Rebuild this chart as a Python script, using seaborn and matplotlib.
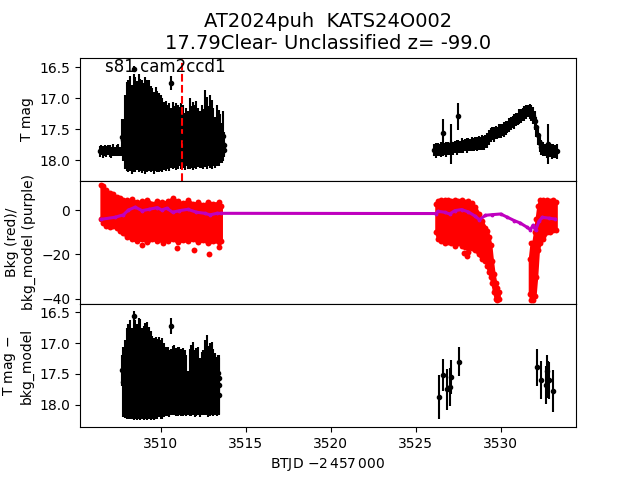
import matplotlib
matplotlib.use("Agg")
import matplotlib.pyplot as plt
import seaborn as sns

# ---------------- top panel: T mag ----------------
# quiet baseline at the start of the first orbit
base_t = [3506.4, 3506.5, 3506.6, 3506.7, 3506.8, 3506.9, 3507.0, 3507.1, 3507.2, 3507.3,
          3507.4, 3507.5, 3507.6, 3507.7, 3513.5, 3513.6, 3513.7]
base_mag = [17.86, 17.84, 17.87, 17.85, 17.86, 17.84, 17.85, 17.87, 17.84, 17.86,
            17.85, 17.84, 17.86, 17.85, 17.84, 17.85, 17.83]
base_err = [0.09, 0.08, 0.10, 0.09, 0.09, 0.08, 0.10, 0.09, 0.10, 0.08,
            0.09, 0.10, 0.08, 0.09, 0.09, 0.10, 0.09]

# noisy stretch of the first orbit
noisy_t = [3507.8, 3507.9, 3508.0, 3508.1, 3508.2, 3508.3, 3508.4, 3508.5, 3508.6, 3508.7,
           3508.8, 3508.9, 3509.0, 3509.1, 3509.2, 3509.3, 3509.4, 3509.5, 3509.6, 3509.7,
           3509.8, 3509.9, 3510.0, 3510.1, 3510.2, 3510.3, 3510.4, 3510.5, 3510.6, 3510.7,
           3510.8, 3510.9, 3511.0, 3511.1, 3511.2, 3511.3, 3511.4, 3511.5, 3511.6, 3511.7,
           3511.8, 3511.9, 3512.0, 3512.1, 3512.2, 3512.3, 3512.4, 3512.5, 3512.6, 3512.7,
           3512.8, 3512.9, 3513.0, 3513.1, 3513.2, 3513.3, 3513.4, 3513.5, 3513.6, 3513.7]
noisy_mag = [17.67, 17.55, 17.46, 17.45, 17.40, 17.50, 17.40, 17.43, 17.44, 17.40,
             17.43, 17.46, 17.46, 17.44, 17.45, 17.44, 17.50, 17.51, 17.56, 17.50,
             17.54, 17.56, 17.56, 17.60, 17.61, 17.61, 17.63, 17.63, 17.64, 17.60,
             17.62, 17.62, 17.62, 17.62, 17.61, 17.62, 17.70, 17.63, 17.67, 17.57,
             17.62, 17.61, 17.62, 17.59, 17.63, 17.67, 17.61, 17.66, 17.49, 17.56,
             17.61, 17.54, 17.58, 17.63, 17.71, 17.60, 17.64, 17.65, 17.72, 17.75]
noisy_err = [0.34, 0.60, 0.72, 0.75, 0.77, 0.72, 0.80, 0.77, 0.72, 0.80,
             0.75, 0.75, 0.71, 0.78, 0.75, 0.73, 0.70, 0.67, 0.66, 0.68,
             0.66, 0.64, 0.61, 0.60, 0.55, 0.57, 0.52, 0.55, 0.49, 0.54,
             0.50, 0.54, 0.52, 0.48, 0.53, 0.51, 0.46, 0.47, 0.47, 0.57,
             0.50, 0.55, 0.51, 0.55, 0.48, 0.46, 0.51, 0.48, 0.62, 0.58,
             0.49, 0.59, 0.56, 0.47, 0.41, 0.50, 0.45, 0.40, 0.32, 0.20]

# second orbit
orb2_t = [3526.1, 3526.2, 3526.3, 3526.4, 3526.5, 3526.6, 3526.7, 3526.8, 3526.9, 3527.0,
          3527.1, 3527.2, 3527.3, 3527.4, 3527.5, 3527.6, 3527.7, 3527.8, 3527.9, 3528.0,
          3528.1, 3528.2, 3528.3, 3528.4, 3528.5, 3528.6, 3528.7, 3528.8, 3528.9, 3529.0,
          3529.1, 3529.2, 3529.3, 3529.4, 3529.5, 3529.6, 3529.7, 3529.8, 3529.9, 3530.0,
          3530.1, 3530.2, 3530.3, 3530.4, 3530.5, 3530.6, 3530.7, 3530.8, 3530.9, 3531.0,
          3531.1, 3531.2, 3531.3, 3531.4, 3531.5, 3531.6, 3531.7, 3531.8, 3531.9, 3532.0,
          3532.1, 3532.2, 3532.3, 3532.4, 3532.5, 3532.6, 3532.7, 3532.8, 3532.9, 3533.0,
          3533.1, 3533.2, 3533.3]
orb2_mag = [17.84, 17.85, 17.83, 17.84, 17.83, 17.82, 17.82, 17.83, 17.81, 17.82,
            17.80, 17.81, 17.79, 17.80, 17.78, 17.79, 17.77, 17.78, 17.76, 17.77,
            17.75, 17.76, 17.74, 17.75, 17.73, 17.74, 17.72, 17.73, 17.71, 17.72,
            17.70, 17.68, 17.64, 17.59, 17.57, 17.58, 17.55, 17.56, 17.53, 17.53,
            17.51, 17.50, 17.48, 17.46, 17.43, 17.41, 17.38, 17.37, 17.34, 17.33,
            17.30, 17.29, 17.26, 17.25, 17.22, 17.20, 17.21, 17.24, 17.28, 17.36,
            17.46, 17.60, 17.73, 17.79, 17.82, 17.84, 17.84, 17.85, 17.85, 17.86,
            17.85, 17.86, 17.86]
orb2_err = [0.10, 0.12, 0.11, 0.10, 0.12, 0.11, 0.10, 0.12, 0.11, 0.10,
            0.12, 0.11, 0.10, 0.12, 0.11, 0.10, 0.12, 0.11, 0.10, 0.12,
            0.11, 0.10, 0.12, 0.11, 0.10, 0.12, 0.11, 0.10, 0.12, 0.11,
            0.10, 0.12, 0.12, 0.11, 0.10, 0.12, 0.11, 0.10, 0.12, 0.11,
            0.10, 0.12, 0.11, 0.10, 0.12, 0.11, 0.10, 0.12, 0.11, 0.10,
            0.12, 0.11, 0.10, 0.12, 0.11, 0.10, 0.12, 0.13, 0.14, 0.15,
            0.16, 0.16, 0.14, 0.12, 0.11, 0.10, 0.12, 0.11, 0.10, 0.12,
            0.11, 0.10, 0.12]

# isolated points
top_out_t = [3507.7, 3508.45, 3510.6, 3513.65, 3526.6, 3527.05, 3527.5, 3532.8]
top_out_mag = [17.62, 16.53, 16.75, 17.61, 17.56, 17.74, 17.29, 17.74]
top_out_err = [0.29, 0.05, 0.12, 0.40, 0.22, 0.32, 0.22, 0.32]

mark_t = 3511.25
label = "s81 cam2ccd1"

# ---------------- middle panel: background ----------------
bkg1_t = [3506.5, 3506.6, 3506.8, 3507.0, 3507.2, 3507.4, 3507.6, 3507.8, 3508.0, 3508.3,
          3508.6, 3508.9, 3509.2, 3509.5, 3509.8, 3510.1, 3510.4, 3510.7, 3511.0, 3511.3,
          3511.6, 3511.9, 3512.2, 3512.5, 3512.8, 3513.1, 3513.4, 3513.55]
bkg1_hi = [11.5, 11.0, 9.0, 8.0, 7.5, 6.0, 5.5, 4.8, 4.5, 5.0,
           3.5, 4.0, 4.8, 3.0, 4.2, 3.5, 4.0, 5.6, 4.0, 3.2,
           4.5, 3.0, 3.6, 2.5, 3.8, 3.0, 3.5, 2.0]
bkg1_lo = [-4, -6, -7, -7.5, -7, -8, -9.5, -10.5, -12, -13,
           -14, -13, -14.5, -13, -14, -13.5, -14, -13, -14.5, -13.5,
           -14, -13, -14.5, -13.5, -15, -14, -14.5, -14]

bkg2_t = [3526.2, 3526.3, 3526.5, 3526.7, 3526.9, 3527.1, 3527.3, 3527.5, 3527.7, 3527.9,
          3528.1, 3528.3, 3528.5, 3528.7, 3528.9, 3529.1, 3529.2, 3529.3, 3529.4, 3529.5,
          3529.6, 3529.7, 3529.8, 3529.9]
bkg2_hi = [3.0, 4.0, 4.8, 4.5, 4.6, 4.0, 4.8, 4.2, 4.6, 3.8,
           4.2, 3.3, 1.5, -1.5, -5, -8, -9.5, -12, -15.6, -23,
           -29, -33, -35, -37]
bkg2_lo = [-10, -13, -14, -15, -14.5, -15, -16, -15, -16, -16.5,
           -17, -17, -18, -20, -22, -23, -25, -28, -30, -33,
           -37, -40, -40.5, -40]

bkg3_t = [3531.7, 3531.8, 3531.9, 3532.0, 3532.1, 3532.2, 3532.3, 3532.5, 3532.7, 3532.9,
          3533.1, 3533.25]
bkg3_hi = [-22, -15, -15, -10, -4, 2, 4.8, 4.5, 4.8, 4.2, 4.6, 3.5]
bkg3_lo = [-38, -40.5, -40.5, -39, -30, -18, -15, -13, -10, -10, -9, -9]

bkg_out_t = [3508.9, 3510.15, 3510.98, 3511.98, 3512.86, 3513.43, 3527.85, 3528.0, 3528.1]
bkg_out = [-15.8, -15, -17, -18, -19.9, -16.5, -19.5, -20.5, -19]

model_t = [3506.5, 3507.3, 3507.8, 3508.1, 3508.5, 3508.9, 3509.3, 3509.8, 3510.05, 3510.35,
           3510.7, 3511.1, 3511.6, 3512.1, 3512.6, 3512.9, 3513.3, 3513.55,
           3526.2, 3526.3, 3526.7, 3527.0, 3527.3, 3527.7, 3528.1, 3528.5, 3528.75, 3529.1,
           3529.5, 3530.0, 3530.4, 3530.8, 3531.15, 3531.55, 3531.75, 3531.9, 3532.05, 3532.25,
           3532.45, 3532.85, 3533.2]
model = [-4.1, -3.2, -2.1, 0.1, 1.4, -0.2, 0.4, 1.2, 0.1, 0.9,
         -0.9, -0.2, 0.4, -0.9, -1.4, -2.1, -1.4, -1.4,
         -1.5, -0.5, -0.9, -1.7, -0.2, 0.3, -0.8, -2.7, -4.3, -2.3,
         -2.0, -1.7, -3.2, -4.7, -5.8, -7.7, -8.8, -6.8, -9.1, -5.0,
         -3.2, -3.6, -4.0]

# ---------------- bottom panel: T mag - bkg_model ----------------
diff_t = [3507.7, 3507.8, 3507.9, 3508.0, 3508.1, 3508.2, 3508.3, 3508.4, 3508.5, 3508.6,
          3508.7, 3508.8, 3508.9, 3509.0, 3509.1, 3509.2, 3509.3, 3509.4, 3509.5, 3509.6,
          3509.7, 3509.8, 3509.9, 3510.0, 3510.1, 3510.2, 3510.3, 3510.4, 3510.5, 3510.6,
          3510.7, 3510.8, 3510.9, 3511.0, 3511.1, 3511.2, 3511.3, 3511.4, 3511.5, 3511.6,
          3511.7, 3511.8, 3511.9, 3512.0, 3512.1, 3512.2, 3512.3, 3512.4, 3512.5, 3512.6,
          3512.7, 3512.8, 3512.9, 3513.0, 3513.1, 3513.2, 3513.3, 3513.4]
diff_mag = [17.44, 17.63, 17.58, 17.49, 17.46, 17.43, 17.49, 17.43, 17.43, 17.47,
            17.41, 17.43, 17.49, 17.48, 17.45, 17.45, 17.48, 17.52, 17.55, 17.58,
            17.56, 17.58, 17.55, 17.59, 17.57, 17.60, 17.62, 17.62, 17.65, 17.63,
            17.61, 17.60, 17.63, 17.62, 17.61, 17.64, 17.63, 17.64, 17.69, 17.81,
            17.64, 17.61, 17.58, 17.65, 17.63, 17.61, 17.72, 17.66, 17.64, 17.56,
            17.52, 17.62, 17.59, 17.57, 17.64, 17.66, 17.70, 17.68]
diff_err = [0.25, 0.57, 0.63, 0.73, 0.76, 0.80, 0.74, 0.81, 0.80, 0.77,
            0.81, 0.81, 0.73, 0.76, 0.77, 0.79, 0.74, 0.72, 0.67, 0.66,
            0.66, 0.65, 0.65, 0.64, 0.65, 0.60, 0.56, 0.56, 0.54, 0.53,
            0.56, 0.57, 0.55, 0.56, 0.55, 0.54, 0.55, 0.52, 0.49, 0.35,
            0.54, 0.57, 0.59, 0.54, 0.55, 0.55, 0.47, 0.51, 0.52, 0.61,
            0.65, 0.57, 0.59, 0.59, 0.54, 0.50, 0.48, 0.48]

diff2_t = [3508.45, 3510.6, 3513.38, 3513.42, 3513.45,
           3526.37, 3526.61, 3526.82, 3527.0, 3527.06, 3527.55,
           3532.16, 3532.39, 3532.65, 3532.7, 3532.8, 3532.86, 3533.08]
diff2_mag = [16.56, 16.73, 17.49, 17.84, 17.56,
             17.87, 17.52, 17.75, 17.71, 17.55, 17.30,
             17.39, 17.60, 17.68, 17.45, 17.59, 17.60, 17.77]
diff2_err = [0.08, 0.13, 0.30, 0.30, 0.32,
             0.36, 0.26, 0.33, 0.31, 0.28, 0.23,
             0.30, 0.31, 0.31, 0.26, 0.30, 0.30, 0.34]

title = "AT2024puh  KATS24O002\n17.79Clear- Unclassified z= -99.0"

fig, (ax1, ax2, ax3) = plt.subplots(3, 1, sharex=True, figsize=(6.4, 4.8))
fig.subplots_adjust(hspace=0)

# top
ax1.errorbar(base_t, base_mag, yerr=base_err, fmt="k.")
ax1.errorbar(noisy_t, noisy_mag, yerr=noisy_err, fmt="k.")
ax1.errorbar(orb2_t, orb2_mag, yerr=orb2_err, fmt="k.")
ax1.errorbar(top_out_t, top_out_mag, yerr=top_out_err, fmt="k.")
ax1.axvline(mark_t, color="r", ls="--")
ax1.text(0.05, 1.0, label, transform=ax1.transAxes, va="top", ha="left", fontsize=12)
ax1.set_ylim(18.335, 16.34)
ax1.set_ylabel("T mag")
ax1.set_title(title, fontsize=14)

# middle
for t, hi, lo in [(bkg1_t, bkg1_hi, bkg1_lo), (bkg2_t, bkg2_hi, bkg2_lo), (bkg3_t, bkg3_hi, bkg3_lo)]:
    ax2.fill_between(t, lo, hi, color="r", edgecolor="r", lw=2)
    sns.scatterplot(x=t + t, y=hi + lo, color="r", s=18, linewidth=0, ax=ax2)
sns.scatterplot(x=bkg_out_t, y=bkg_out, color="r", s=18, linewidth=0, ax=ax2)
sns.lineplot(x=model_t, y=model, color="m", marker=".", markersize=4,
             markeredgecolor="m", linewidth=2.2, ax=ax2)
ax2.set_ylim(-42.4, 13.3)
ax2.set_ylabel("Bkg (red)/\nbkg_model (purple)")

# bottom
ax3.errorbar(diff_t, diff_mag, yerr=diff_err, fmt="k.")
ax3.errorbar(diff2_t, diff2_mag, yerr=diff2_err, fmt="k.")
ax3.set_ylim(18.36, 16.37)
ax3.set_ylabel("T mag $-$\nbkg_model")
ax3.set_xlabel(r"BTJD $-2\,457\,000$")
ax3.set_xlim(3505.25, 3534.43)

ax1.tick_params(axis="x", bottom=False)
ax2.tick_params(axis="x", bottom=False)

fig.savefig("out.png", dpi=100)
